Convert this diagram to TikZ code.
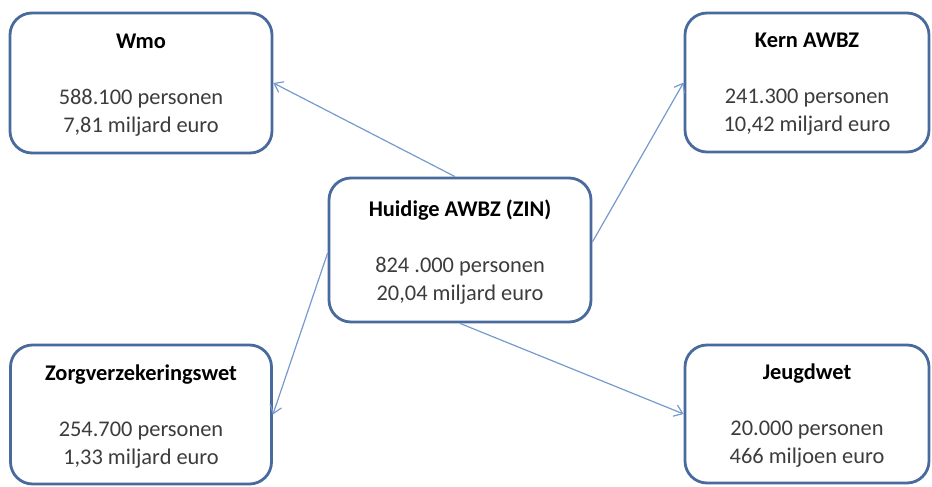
\documentclass[tikz,border=0pt]{standalone}
\usepackage{fontspec}
\setmainfont{Carlito}
\usetikzlibrary{arrows.meta}
\definecolor{boxrand}{RGB}{72,106,156}
\definecolor{pijl}{RGB}{118,154,206}
\definecolor{tekst}{RGB}{60,60,60}
\tikzset{
  wet/.style={draw=boxrand, line width=1.4pt, rounded corners=11pt, fill=white,
    align=center, text=tekst, inner sep=0pt, text depth=0pt,
    font=\fontsize{11.2}{14}\selectfont},
  pijlstijl/.style={draw=pijl, line width=0.6pt, -{Straight Barb[length=4pt,width=6pt]}}
}
\newcommand{\kop}[1]{\textcolor{black}{\textbf{#1}}\\[14pt]}
\begin{document}
\begin{tikzpicture}[x=0.5pt,y=-0.5pt]
    \useasboundingbox (0,0) rectangle (932,487);
    % Kaders
    \node[wet, minimum width=131pt, minimum height=70pt] (wmo) at (141,83)
        {\kop{Wmo}588.100 personen\\7,81 miljard euro};
    \node[wet, minimum width=122pt, minimum height=69.5pt] (kern) at (807,82.5)
        {\kop{Kern AWBZ}241.300 personen\\10,42 miljard euro};
    \node[wet, minimum width=131pt, minimum height=72pt] (huidig) at (460,250)
        {\kop{Huidige AWBZ (ZIN)}824 .000 personen\\20,04 miljard euro};
    \node[wet, minimum width=130.5pt, minimum height=69.5pt] (zvw) at (141,414.5)
        {\kop{Zorgverzekeringswet}254.700 personen\\1,33 miljard euro};
    \node[wet, minimum width=122pt, minimum height=69pt] (jeugd) at (807,414)
        {\kop{Jeugdwet}20.000 personen\\466 miljoen euro};

    % Pijlen
    \draw[pijlstijl] ([xshift=-2.5pt]huidig.north) -- (wmo.east);
    \draw[pijlstijl] ([yshift=4pt]huidig.east) -- (kern.west);
    \draw[pijlstijl] ([yshift=-1.5pt]huidig.west) -- (zvw.east);
    \draw[pijlstijl] (huidig.south) -- (jeugd.west);
\end{tikzpicture}
\end{document}
